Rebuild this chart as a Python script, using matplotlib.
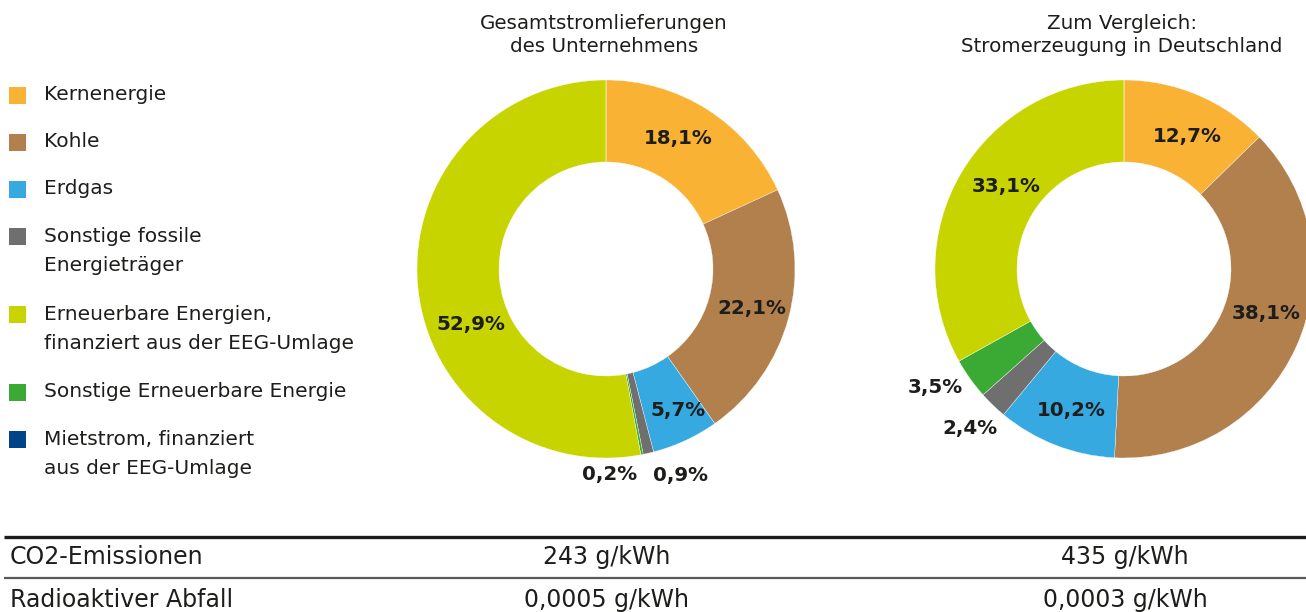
import matplotlib
matplotlib.use("Agg")
import matplotlib.pyplot as plt
from matplotlib.patches import Rectangle
import numpy as np

# ---------------- data ----------------
categories = [
    "Kernenergie",
    "Kohle",
    "Erdgas",
    "Sonstige fossile\nEnergieträger",
    "Erneuerbare Energien,\nfinanziert aus der EEG-Umlage",
    "Sonstige Erneuerbare Energie",
    "Mietstrom, finanziert\naus der EEG-Umlage",
]
colors = ["#F9B233", "#B1804C", "#36A9E1", "#706F6F", "#C8D400", "#3AAA35", "#004388"]

company_values = [18.1, 22.1, 5.7, 0.9, 52.9, 0.2, 0.0]
germany_values = [12.7, 38.1, 10.2, 2.4, 33.1, 3.5, 0.0]

chart_titles = ["Gesamtstromlieferungen\ndes Unternehmens",
                "Zum Vergleich:\nStromerzeugung in Deutschland"]

table_rows = ["CO2-Emissionen", "Radioaktiver Abfall"]
table_company = ["243 g/kWh", "0,0005 g/kWh"]
table_germany = ["435 g/kWh", "0,0003 g/kWh"]

# ---------------- layout / style ----------------
pie_order = [0, 1, 2, 3, 5, 4, 6]   # clockwise from 12 o'clock
W, H = 1306, 612
TXT = "#1d1d1b"
FONT = ["DejaVu Sans"]
plt.rcParams['font.family'] = FONT

# label adjustments: category index -> (clockwise angle shift in deg, radius)
label_adj = [
    {0: (-3.5, 0.79), 1: (0, 0.80), 2: (-2, 0.84), 3: (-7, 1.16), 4: (-17, 0.77), 5: (10, 1.085)},
    {0: (2.6, 0.775), 1: (-7, 0.79), 2: (-0.7, 0.80), 3: (0, 1.175), 4: (4.6, 0.76), 5: (3.5, 1.18)},
]
donut_centers = [(606, 269), (1124, 269)]
R_OUT = 189
RING = 1 - 107 / 189

fig = plt.figure(figsize=(W / 100, H / 100), dpi=100)

# overlay axes in pixel coordinates
ov = fig.add_axes([0, 0, 1, 1])
ov.set_xlim(0, W)
ov.set_ylim(H, 0)
ov.axis("off")


def fmt(v):
    return f"{v:.1f}".replace(".", ",") + "%"


for k, vals in enumerate([company_values, germany_values]):
    cx, cy = donut_centers[k]
    ax = fig.add_axes([(cx - R_OUT) / W, (H - cy - R_OUT) / H, 2 * R_OUT / W, 2 * R_OUT / H])
    v = [vals[i] for i in pie_order]
    c = [colors[i] for i in pie_order]
    wedges, _ = ax.pie(v, colors=c, startangle=90, counterclock=False, radius=1,
                       wedgeprops=dict(width=RING, edgecolor="white", linewidth=0.25))
    ax.set_xlim(-1, 1)
    ax.set_ylim(-1, 1)
    ax.set_aspect("equal")
    ax.axis("off")
    for w, idx in zip(wedges, pie_order):
        if vals[idx] <= 0:
            continue
        mid = 0.5 * (w.theta1 + w.theta2)
        dth, r = label_adj[k].get(idx, (0, 0.79))
        ang = np.deg2rad(mid - dth)
        ax.text(r * np.cos(ang), r * np.sin(ang), fmt(vals[idx]), ha="center", va="center",
                fontsize=14.3, fontweight="bold", color=TXT, clip_on=False)
    ov.text(cx - 2, 35, chart_titles[k], ha="center", va="center", fontsize=14.3,
            color=TXT, linespacing=1.33)

# legend
y = 95
for cat, col in zip(categories, colors):
    ov.add_patch(Rectangle((9, y - 8.5), 17, 17, facecolor=col, edgecolor="none"))
    nlines = cat.count("\n") + 1
    ov.text(44, y - 0.5 + 15.5 * (nlines - 1), cat, ha="left", va="center", fontsize=14.5,
            color=TXT, linespacing=1.65)
    y += 47 + 31 * (nlines - 1)

# table
ov.plot([4, W], [537, 537], color="#1d1d1b", lw=2.4, solid_capstyle="butt")
ov.plot([4, W], [578, 578], color="#5a5a5a", lw=1.6, solid_capstyle="butt")
for i, (lab, a, b) in enumerate(zip(table_rows, table_company, table_germany)):
    yy = 557 + i * 43
    ov.text(10, yy, lab, ha="left", va="center", fontsize=17, color=TXT)
    ov.text(607, yy, a, ha="center", va="center", fontsize=17, color=TXT)
    ov.text(1125, yy, b, ha="center", va="center", fontsize=17, color=TXT)

fig.savefig("out.png", dpi=100)
